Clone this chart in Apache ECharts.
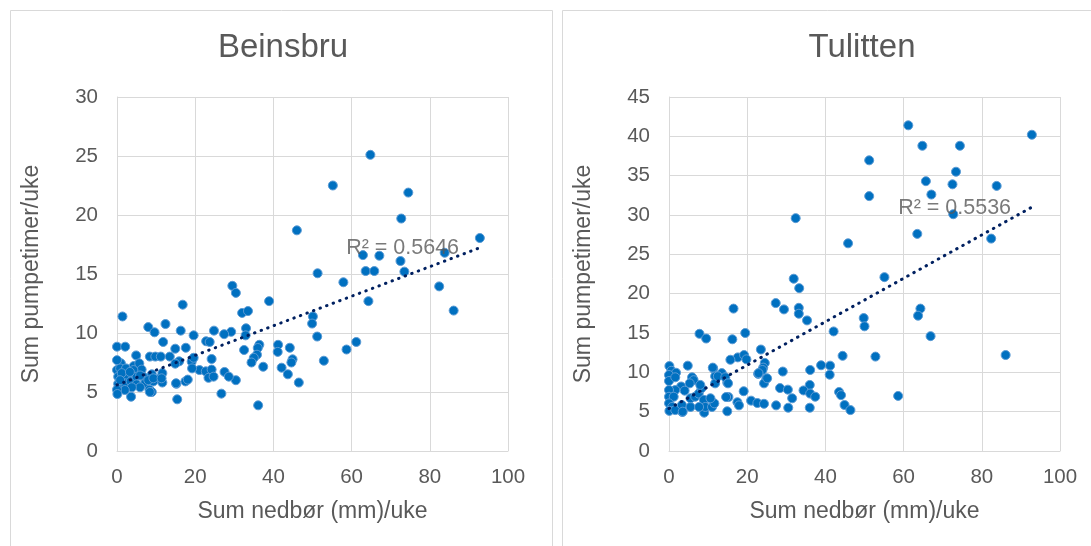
<!DOCTYPE html>
<html><head><meta charset="utf-8">
<script src="https://cdn.jsdelivr.net/npm/echarts@6/dist/echarts.min.js"></script>
<style>html,body{margin:0;padding:0;background:#fff}#c{width:1091px;height:546px}</style>
</head><body><div id="c"></div><script>
// ---- data ----
const panelTitles = ['Beinsbru', 'Tulitten'];
const xAxisName = 'Sum nedbør (mm)/uke';
const yAxisName = 'Sum pumpetimer/uke';
const xRange = [0, 100, 20];
const yRanges = [[0, 30, 5], [0, 45, 5]];
const r2Texts = ['R² = 0.5646', 'R² = 0.5536'];
const r2Anchors = [[58.6, 17.2], [58.6, 30.9]];
const beinsbruTrend = [[0, 5.6], [92.6, 17.2]];
const tulittenTrend = [[0, 5.4], [92.8, 31.0]];

const beinsbruPoints = [
 [64.8,25.1],[55.2,22.5],[74.5,21.9],[72.7,19.7],[46.0,18.7],[92.8,18.05],[83.8,16.8],[62.9,16.6],
 [67.1,16.55],[72.5,16.1],[63.6,15.25],[65.8,15.25],[73.5,15.2],[51.3,15.06],[57.9,14.3],[82.4,13.95],
 [29.5,14.0],[30.4,13.4],[38.9,12.7],[64.3,12.7],[16.8,12.4],[86.1,11.9],[32.0,11.7],[33.5,11.86],
 [1.4,11.4],[50.1,11.4],[49.9,10.8],[12.4,10.76],[8.0,10.5],[9.6,10.06],[16.3,10.2],[24.8,10.2],
 [29.2,10.1],[27.4,9.9],[33.0,10.4],[32.9,9.8],[19.6,9.8],[51.2,9.7],[11.8,9.24],[22.8,9.3],
 [23.7,9.24],[61.2,9.24],[36.4,9.0],[41.2,9.0],[0,8.84],[2.1,8.84],[14.9,8.67],[17.6,8.75],
 [44.2,8.75],[36.0,8.73],[32.5,8.56],[41.1,8.4],[58.7,8.6],[4.9,8.1],[8.4,8.0],[9.8,8.0],
 [11.2,8.0],[13.5,8.0],[15.9,7.6],[14.9,7.4],[19.1,7.57],[19.6,7.9],[24.2,7.8],[35.8,8.16],
 [35.0,7.9],[34.4,7.5],[44.9,7.77],[44.6,7.5],[52.9,7.65],[37.4,7.14],[42.1,7.06],[43.7,6.5],
 [46.5,5.8],[30.4,6.0],[27.5,6.7],[28.6,6.3],[21.1,6.86],[22.7,6.75],[24.2,6.9],[19.2,7.0],
 [23.4,6.2],[24.7,6.3],[15.2,5.7],[17.5,5.9],[18.1,6.05],[26.7,4.86],[15.4,4.38],[36.1,3.87],
 [3.6,4.6],[1.0,7.43],[0,6.86],[0.8,7.0],[2.3,7.0],[4.3,7.2],[5.7,7.43],[6.3,6.9],
 [4.2,6.86],[2.5,6.36],[0.3,6.3],[0.3,5.7],[2.0,5.74],[3.5,5.9],[5.0,6.3],[6.7,6.3],
 [8.9,6.5],[9.3,5.9],[11.0,6.16],[11.6,5.8],[7.2,5.74],[5.0,5.65],[5.9,5.4],[8.3,5.2],
 [8.9,5.0],[3.8,5.4],[2.0,5.17],[0,5.2],[0.1,4.83],[15.1,5.74],[11.6,6.6],[1.2,6.6],
 [0,7.7],[0.8,6.0],[8.0,6.0],[3.3,6.7],[5.9,6.4],[9.3,6.16],[11.4,6.16],[8.4,5.0]
];

const tulittenPoints = [
 [61.2,41.4],[92.8,40.2],[64.8,38.8],[74.4,38.8],[51.2,36.95],[73.4,35.5],[65.7,34.3],[72.5,33.9],
 [83.8,33.7],[67.1,32.6],[51.2,32.4],[72.7,30.1],[32.4,29.6],[63.5,27.6],[82.4,27.0],[45.8,26.4],
 [55.1,22.1],[31.9,21.9],[33.3,20.7],[16.5,18.1],[27.3,18.8],[29.4,18.0],[33.2,18.2],[33.2,17.45],
 [64.3,18.1],[63.7,17.2],[35.3,16.6],[49.8,16.9],[50.0,15.85],[42.1,15.2],[7.8,14.9],[9.5,14.3],
 [16.2,14.2],[19.5,15.0],[66.9,14.6],[23.5,12.9],[17.6,11.9],[19.2,12.2],[19.8,11.65],[15.7,11.6],
 [24.5,11.2],[24.1,10.6],[23.9,10.3],[44.4,12.1],[52.8,12.0],[86.1,12.2],[38.9,10.9],[41.2,10.85],
 [41.1,9.7],[36.1,10.3],[29.1,10.1],[22.8,9.8],[24.9,9.2],[24.3,8.6],[14.9,8.7],[11.3,10.5],
 [4.8,10.85],[13.5,9.9],[11.8,9.5],[6.1,9.2],[28.4,8.0],[30.4,7.8],[36.0,8.4],[34.4,7.7],
 [36.1,7.3],[37.4,6.9],[31.5,6.7],[19.1,7.6],[43.5,7.5],[44.0,7.1],[58.6,7.0],[15.2,6.86],
 [14.6,6.86],[17.5,6.2],[17.9,5.8],[21.0,6.4],[22.6,6.1],[24.3,6.0],[27.4,5.8],[30.5,5.5],
 [36.0,5.5],[44.9,5.85],[46.4,5.2],[14.9,5.05],[9.0,4.87],[3.4,4.96],
 [0.1,10.8],[0.6,10.2],[1.8,9.95],[0,9.66],[0,8.9],[1.6,9.37],[5.9,9.37],[6.3,9.0],
 [5.3,8.6],[3.1,8.2],[4.0,7.67],[1.6,7.75],[0,7.75],[0,6.9],[1.2,6.9],[0,6.06],
 [0.8,5.6],[0.1,5.1],[1.6,5.2],[3.3,5.85],[3.5,5.0],[5.5,5.6],[5.5,6.7],[6.7,6.9],
 [7.6,7.3],[8.3,7.97],[8.0,8.4],[8.9,6.5],[9.3,5.6],[7.7,5.6],[11.0,5.6],[11.6,6.06],
 [10.6,6.7],[11.8,8.6],[11.2,10.6],[12.5,9.5],[14.4,9.37],[15.1,8.6],[25.1,9.24],[22.9,9.9]
];

// ---- chart ----
const TXT = '#595959', GRID = '#d9d9d9', FONT = "'Liberation Sans', Arial, sans-serif";
const pointsBy = [beinsbruPoints, tulittenPoints];
const trendBy = [beinsbruTrend, tulittenTrend];
const gridLefts = [117, 669];
const titleCenters = [283, 862];

const chart = echarts.init(document.getElementById('c'));
const option = {
  animation: false,
  backgroundColor: '#fff',
  textStyle: { fontFamily: FONT },
  graphic: [
    { type: 'rect', shape: { x: 10.5, y: 10.5, width: 542, height: 600 }, style: { fill: 'none', stroke: GRID, lineWidth: 1 }, silent: true },
    { type: 'rect', shape: { x: 562.5, y: 10.5, width: 600, height: 600 }, style: { fill: 'none', stroke: GRID, lineWidth: 1 }, silent: true }
  ],
  title: panelTitles.map((t, i) => ({
    text: t, left: titleCenters[i], top: 31, textAlign: 'center', padding: 0,
    textStyle: { fontSize: 33, fontWeight: 'normal', color: TXT, fontFamily: FONT }
  })),
  grid: gridLefts.map(l => ({ left: l, top: 97, width: 391, height: 354 })),
  xAxis: [0, 1].map(i => ({
    type: 'value', gridIndex: i, min: xRange[0], max: xRange[1], interval: xRange[2],
    name: xAxisName, nameLocation: 'middle', nameGap: 49, nameMoveOverlap: false,
    nameTextStyle: { fontSize: 23, color: TXT, fontFamily: FONT },
    axisLine: { show: true, lineStyle: { color: GRID, width: 1 } },
    axisTick: { show: false },
    splitLine: { show: true, lineStyle: { color: GRID, width: 1 } },
    axisLabel: { fontSize: 20.5, color: TXT, margin: 16, fontFamily: FONT }
  })),
  yAxis: [0, 1].map(i => ({
    type: 'value', gridIndex: i, min: yRanges[i][0], max: yRanges[i][1], interval: yRanges[i][2],
    name: yAxisName, nameLocation: 'middle', nameGap: 74, nameRotate: 90, nameMoveOverlap: false,
    nameTextStyle: { fontSize: 23, color: TXT, fontFamily: FONT },
    axisLine: { show: true, lineStyle: { color: GRID, width: 1 } },
    axisTick: { show: false },
    splitLine: { show: true, lineStyle: { color: GRID, width: 1 } },
    axisLabel: { fontSize: 20.5, color: TXT, margin: 19, fontFamily: FONT }
  })),
  series: []
};
[0, 1].forEach(i => {
  option.series.push({
    type: 'scatter', xAxisIndex: i, yAxisIndex: i, data: pointsBy[i],
    symbol: 'circle', symbolSize: 9, z: 2,
    itemStyle: { color: '#0070C0', borderColor: '#5B9BD5', borderWidth: 1, opacity: 1 }
  });
  option.series.push({
    type: 'line', xAxisIndex: i, yAxisIndex: i, data: trendBy[i],
    symbol: 'none', silent: true, z: 3,
    lineStyle: { color: '#002060', width: 3, type: [0.5, 6.5], cap: 'round' }
  });
  option.series.push({
    type: 'scatter', xAxisIndex: i, yAxisIndex: i, data: [r2Anchors[i]],
    symbolSize: 0, silent: true, z: 4,
    label: { show: true, position: 'right', distance: 0, formatter: r2Texts[i],
      fontSize: 21.5, color: TXT, fontFamily: FONT }
  });
});
chart.setOption(option);
</script></body></html>
